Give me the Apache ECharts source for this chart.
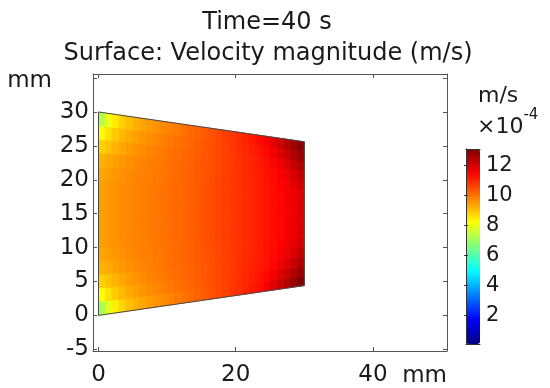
<!DOCTYPE html>
<html><head><meta charset="utf-8">
<script src="https://cdn.jsdelivr.net/npm/echarts@6/dist/echarts.min.js"></script>
<style>html,body{margin:0;padding:0;background:#fff}#c{width:550px;height:388px}</style>
</head><body><div id="c"></div>
<script>
// ---- text & ticks ----
const titleLines = ['Time=40 s', 'Surface: Velocity magnitude (m/s)'];
const axisUnit = 'mm';
const colorUnit = 'm/s';
const colorScaleBase = '×10';
const colorScaleExp = '-4';
const xTickValues = [0, 20, 40];
const yTickValues = [-5, 0, 5, 10, 15, 20, 25, 30, 35];
const yLabelValues = [-5, 0, 5, 10, 15, 20, 25, 30];
const colorbarTicks = [2, 4, 6, 8, 10, 12];
const colorRange = [0.1, 13.1];   // ×10^-4 m/s

// ---- domain (trapezoid, mm) ----
const domainX = [0, 30];
const domainBottom = [0, 4.4];
const domainTop = [30, 25.6];
// mesh columns (mm); velocity magnitude (×10^-4 m/s) per cell, rows from bottom edge to top edge
const meshX = [0,1,2,3,4,5,6,7,8,9,10,11,12,13,14,15,16,17,18,19,20,21,22,23,24,25,26,27,28,29,30];
const rowEdge  = [7.1, 7.9, 8.4, 8.8, 9.02, 9.2, 9.35, 9.48, 9.6, 9.7, 9.8, 9.9, 10.0, 10.1, 10.2, 10.3, 10.42, 10.54, 10.66, 10.78, 10.9, 11.02, 11.15, 11.3, 11.55, 11.85, 12.15, 12.45, 12.75, 13.0];
const rowNear1 = [8.2, 8.6, 8.9, 9.12, 9.3, 9.45, 9.57, 9.67, 9.76, 9.85, 9.94, 10.02, 10.1, 10.18, 10.27, 10.36, 10.46, 10.56, 10.66, 10.77, 10.88, 10.99, 11.1, 11.22, 11.38, 11.6, 11.85, 12.15, 12.45, 12.75];
const rowNear2 = [8.8, 9.0, 9.2, 9.36, 9.5, 9.6, 9.7, 9.78, 9.86, 9.94, 10.01, 10.08, 10.15, 10.22, 10.3, 10.38, 10.47, 10.56, 10.65, 10.75, 10.85, 10.95, 11.05, 11.16, 11.27, 11.42, 11.65, 11.9, 12.2, 12.45];
const rowNear3 = [9.2, 9.32, 9.45, 9.55, 9.64, 9.72, 9.79, 9.85, 9.92, 9.98, 10.04, 10.1, 10.17, 10.24, 10.32, 10.4, 10.48, 10.57, 10.66, 10.75, 10.85, 10.95, 11.04, 11.14, 11.24, 11.36, 11.52, 11.72, 11.95, 12.2];
const rowNear4 = [9.35, 9.46, 9.56, 9.64, 9.71, 9.77, 9.83, 9.88, 9.94, 10.0, 10.06, 10.12, 10.19, 10.26, 10.33, 10.41, 10.49, 10.58, 10.67, 10.76, 10.85, 10.94, 11.03, 11.13, 11.23, 11.34, 11.46, 11.62, 11.8, 12.02];
const rowMid   = [9.45, 9.55, 9.62, 9.68, 9.74, 9.8, 9.85, 9.9, 9.96, 10.02, 10.08, 10.14, 10.2, 10.27, 10.34, 10.42, 10.5, 10.58, 10.67, 10.76, 10.85, 10.94, 11.03, 11.12, 11.22, 11.32, 11.43, 11.55, 11.72, 11.92];
const rowTop   = [7.3, 8.0, 8.45, 8.82, 9.04, 9.22, 9.37, 9.5, 9.62, 9.72, 9.82, 9.92, 10.02, 10.12, 10.22, 10.32, 10.43, 10.55, 10.67, 10.79, 10.91, 11.03, 11.16, 11.32, 11.55, 11.82, 12.1, 12.4, 12.7, 12.95];
const velocityRows = [rowEdge, rowNear1, rowNear2, rowNear3, rowNear4, rowMid, rowMid, rowMid, rowMid, rowMid,
                      rowNear4, rowNear3, rowNear2, rowNear1, rowTop];

const jet = ['#00007f', '#0000ff', '#007fff', '#00ffff', '#7fff7f', '#ffff00', '#ff7f00', '#ff0000', '#7f0000'];
const FONT = 'DejaVu Sans';
const TXT = '#1a1a1a';
const FRAME = '#555';

const cells = [];
velocityRows.forEach((row, j) => row.forEach((v, i) => cells.push([i, j, v])));

function edgeY(x, eta) {
  const t = (x - domainX[0]) / (domainX[1] - domainX[0]);
  const yb = domainBottom[0] + t * (domainBottom[1] - domainBottom[0]);
  const yt = domainTop[0] + t * (domainTop[1] - domainTop[0]);
  return yb + eta * (yt - yb);
}
const outline = [
  [domainX[0], domainBottom[0]], [domainX[1], domainBottom[1]],
  [domainX[1], domainTop[1]], [domainX[0], domainTop[0]], [domainX[0], domainBottom[0]]
];

const chart = echarts.init(document.getElementById('c'), null, {renderer: 'canvas'});
const frameAxis = (extra) => Object.assign({
  axisLine: {show: true, onZero: false, lineStyle: {color: FRAME, width: 1}},
  splitLine: {show: false}
}, extra);
const plainText = (size) => ({fontFamily: FONT, fontSize: size, fontWeight: 'normal', color: TXT});

chart.setOption({
  backgroundColor: '#fff',
  animation: false,
  title: [
    {text: titleLines[0], left: 267, top: 11, textAlign: 'center', padding: 0, textStyle: plainText(24)},
    {text: titleLines[1], left: 268, top: 42, textAlign: 'center', padding: 0, textStyle: plainText(24)},
    {text: colorUnit, left: 478, top: 85, padding: 0, textStyle: plainText(22)},
    {text: '{b|' + colorScaleBase + '}{s|' + colorScaleExp + '}', left: 477, top: 108, padding: 0,
     textStyle: {fontWeight: 'normal', rich: {
       b: {fontFamily: FONT, fontSize: 22, fontWeight: 'normal', color: TXT, lineHeight: 30, verticalAlign: 'bottom'},
       s: {fontFamily: FONT, fontSize: 15, fontWeight: 'normal', color: TXT, lineHeight: 30, verticalAlign: 'top'}
     }}}
  ],
  grid: [
    {left: 93, top: 74, width: 354, height: 278},
    {left: 466, top: 149, width: 14, height: 195}
  ],
  xAxis: [
    frameAxis({type: 'value', gridIndex: 0, position: 'bottom', min: -0.8, max: 50.8,
      name: axisUnit, nameLocation: 'end', nameGap: 0,
      nameTextStyle: {fontFamily: FONT, fontSize: 23, color: TXT, align: 'right', verticalAlign: 'top', padding: [14, 0, 0, 0]},
      axisTick: {show: true, inside: true, length: 4, lineStyle: {color: FRAME}, customValues: xTickValues},
      axisLabel: {customValues: xTickValues, fontFamily: FONT, fontSize: 23, color: TXT, margin: 13}}),
    frameAxis({type: 'value', gridIndex: 0, position: 'top', min: -0.8, max: 50.8,
      axisTick: {show: true, inside: true, length: 4, lineStyle: {color: FRAME}, customValues: xTickValues},
      axisLabel: {show: false}}),
    frameAxis({type: 'value', gridIndex: 1, position: 'bottom', min: 0, max: 1, z: 10,
      axisLine: {show: true, lineStyle: {color: '#333'}}, axisTick: {show: false}, axisLabel: {show: false}}),
    frameAxis({type: 'value', gridIndex: 1, position: 'top', min: 0, max: 1, z: 10,
      axisLine: {show: true, lineStyle: {color: '#333'}}, axisTick: {show: false}, axisLabel: {show: false}})
  ],
  yAxis: [
    frameAxis({type: 'value', gridIndex: 0, position: 'left', min: -5.25, max: 35.6,
      name: axisUnit, nameLocation: 'end', nameGap: -7,
      nameTextStyle: {fontFamily: FONT, fontSize: 23, color: TXT, align: 'right', verticalAlign: 'middle', padding: [0, 41, 0, 0]},
      axisTick: {show: true, inside: true, length: 4, lineStyle: {color: FRAME}, customValues: yTickValues},
      axisLabel: {customValues: yLabelValues, fontFamily: FONT, fontSize: 23, color: TXT, margin: 4}}),
    frameAxis({type: 'value', gridIndex: 0, position: 'right', min: -5.25, max: 35.6,
      axisTick: {show: true, inside: true, length: 4, lineStyle: {color: FRAME}, customValues: yTickValues},
      axisLabel: {show: false}}),
    frameAxis({type: 'value', gridIndex: 1, position: 'right', min: colorRange[0], max: colorRange[1], z: 10,
      axisLine: {show: true, lineStyle: {color: '#333'}},
      axisTick: {show: true, inside: true, length: 2, lineStyle: {color: '#333'}, customValues: colorbarTicks},
      axisLabel: {customValues: colorbarTicks, fontFamily: FONT, fontSize: 21, color: TXT, margin: 6}}),
    frameAxis({type: 'value', gridIndex: 1, position: 'left', min: colorRange[0], max: colorRange[1], z: 10,
      axisLine: {show: true, lineStyle: {color: '#333'}},
      axisTick: {show: true, inside: true, length: 2, lineStyle: {color: '#333'}, customValues: colorbarTicks},
      axisLabel: {show: false}})
  ],
  visualMap: {
    type: 'continuous', min: colorRange[0], max: colorRange[1], dimension: 2, seriesIndex: 0,
    inRange: {color: jet}, orient: 'vertical', left: 466, top: 149, itemWidth: 14, itemHeight: 195,
    padding: 0, calculable: false, hoverLink: false, text: null
  },
  series: [
    {
      type: 'custom', xAxisIndex: 0, yAxisIndex: 0, data: cells,
      encode: {x: 0, y: 1},
      renderItem: function (params, api) {
        const i = api.value(0), j = api.value(1);
        const n = velocityRows.length;
        const x0 = meshX[i], x1 = meshX[i + 1];
        const e0 = j / n, e1 = (j + 1) / n;
        const pts = [[x0, edgeY(x0, e0)], [x1, edgeY(x1, e0)], [x1, edgeY(x1, e1)], [x0, edgeY(x0, e1)]]
          .map(p => api.coord(p));
        const c = api.visual('color');
        return {type: 'polygon', shape: {points: pts}, style: {fill: c, stroke: c, lineWidth: 0.8}};
      }
    },
    {
      type: 'line', xAxisIndex: 0, yAxisIndex: 0, data: outline, symbol: 'none',
      lineStyle: {color: '#4a4a4a', width: 1}, z: 5, silent: true
    }
  ]
});
</script>
</body></html>
